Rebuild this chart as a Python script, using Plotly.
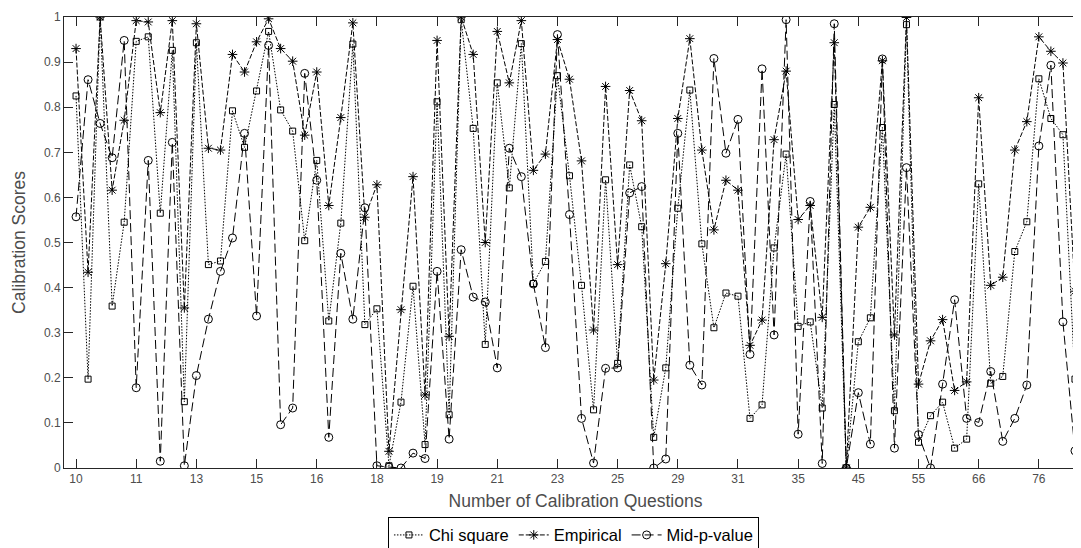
import plotly.graph_objects as go

chi_square = [0.825, 0.197, 1.0, 0.359, 0.545, 0.946, 0.956, 0.565, 0.926, 0.147,
              0.943, 0.451, 0.459, 0.792, 0.711, 0.836, 0.968, 0.794, 0.747, 0.504,
              0.682, 0.326, 0.543, 0.94, 0.318, 0.353, 0.005, 0.146, 0.403, 0.052,
              0.812, 0.118, 0.994, 0.753, 0.274, 0.854, 0.621, 0.941, 0.409, 0.458,
              0.87, 0.648, 0.405, 0.129, 0.639, 0.232, 0.672, 0.535, 0.068, 0.222,
              0.576, 0.838, 0.497, 0.311, 0.388, 0.381, 0.11, 0.14, 0.488, 0.696,
              0.314, 0.324, 0.133, 0.806, 0.0, 0.28, 0.333, 0.755, 0.127, 0.983,
              0.057, 0.116, 0.146, 0.044, 0.064, 0.63, 0.188, 0.203, 0.48, 0.546,
              0.863, 0.775, 0.739, 0.197]
empirical = [0.93, 0.434, 1.0, 0.616, 0.771, 0.992, 0.989, 0.788, 0.992, 0.355,
             0.985, 0.709, 0.705, 0.917, 0.878, 0.945, 0.996, 0.93, 0.902, 0.738,
             0.878, 0.582, 0.777, 0.987, 0.556, 0.628, 0.037, 0.351, 0.646, 0.162,
             0.948, 0.292, 1.0, 0.917, 0.5, 0.968, 0.854, 0.992, 0.66, 0.696,
             0.95, 0.862, 0.681, 0.306, 0.846, 0.451, 0.837, 0.77, 0.195, 0.453,
             0.775, 0.952, 0.705, 0.528, 0.638, 0.616, 0.272, 0.328, 0.728, 0.88,
             0.551, 0.582, 0.334, 0.943, 0.0, 0.534, 0.578, 0.903, 0.295, 0.999,
             0.186, 0.282, 0.329, 0.172, 0.191, 0.821, 0.405, 0.423, 0.705, 0.768,
             0.956, 0.924, 0.898, 0.392]
mid_p_value = [0.557, 0.861, 0.764, 0.688, 0.948, 0.178, 0.682, 0.015, 0.722, 0.005,
               0.205, 0.33, 0.436, 0.51, 0.742, 0.337, 0.937, 0.096, 0.133, 0.875,
               0.638, 0.068, 0.476, 0.33, 0.577, 0.005, 0.002, 0.0, 0.033, 0.021,
               0.436, 0.064, 0.484, 0.379, 0.368, 0.222, 0.709, 0.646, 0.408, 0.267,
               0.961, 0.562, 0.11, 0.011, 0.221, 0.222, 0.61, 0.624, 0.0, 0.02,
               0.742, 0.228, 0.184, 0.908, 0.698, 0.773, 0.252, 0.885, 0.295, 0.994,
               0.075, 0.591, 0.01, 0.985, 0.0, 0.167, 0.053, 0.907, 0.044, 0.666,
               0.074, 0.0, 0.186, 0.373, 0.11, 0.101, 0.214, 0.059, 0.11, 0.184,
               0.714, 0.893, 0.324, 0.038]

tick_positions = [1, 6, 11, 16, 21, 26, 31, 36, 41, 46, 51, 56, 61, 66, 71, 76, 81]
tick_labels = ["10", "11", "13", "15", "16", "18", "19", "21", "23", "25",
               "29", "31", "35", "45", "55", "66", "76"]

x = list(range(1, len(chi_square) + 1))

FONT = "Liberation Sans, Arial, Helvetica, sans-serif"
AX = "#262626"
TXT = "#4d4d4d"

fig = go.Figure()
fig.add_trace(go.Scatter(
    x=x, y=chi_square, name="Chi square", mode="lines+markers",
    line=dict(color="black", width=1, dash="1.5px,1.5px"),
    marker=dict(symbol="square-open", size=6, color="black", line=dict(width=1, color="black"))))
fig.add_trace(go.Scatter(
    x=x, y=empirical, name="Empirical", mode="lines+markers",
    line=dict(color="black", width=1, dash="5px,2px"),
    marker=dict(symbol="asterisk-open", size=8, color="black", line=dict(width=1, color="black"))))
fig.add_trace(go.Scatter(
    x=x, y=mid_p_value, name="Mid-p-value", mode="lines+markers",
    line=dict(color="black", width=1, dash="9px,4px"),
    marker=dict(symbol="circle-open", size=8, color="black", line=dict(width=1, color="black"))))

fig.update_layout(
    width=1081, height=548,
    margin=dict(l=56, r=2, t=9, b=86),
    paper_bgcolor="white", plot_bgcolor="white",
    font=dict(family=FONT, size=12, color=TXT),
    showlegend=True,
    legend=dict(orientation="h", x=0.498, xanchor="center", y=-0.108, yanchor="top",
                bordercolor="black", borderwidth=1, bgcolor="white",
                font=dict(family=FONT, size=16.5, color="black"),
                itemwidth=30, tracegroupgap=0),
)
fig.update_xaxes(
    range=[0, 85], tickmode="array", tickvals=tick_positions, ticktext=tick_labels,
    showgrid=False, zeroline=False, showline=True, linecolor=AX, linewidth=1,
    mirror="ticks", ticks="inside", ticklen=9, tickcolor=AX,
    tickfont=dict(family=FONT, size=12, color=TXT),
    title=dict(text="Number of Calibration Questions", font=dict(family=FONT, size=17.5, color=TXT), standoff=9),
)
fig.update_yaxes(
    range=[0, 1], tickmode="array", tickvals=[i / 10 for i in range(11)],
    ticktext=["0", "0.1", "0.2", "0.3", "0.4", "0.5", "0.6", "0.7", "0.8", "0.9", "1"],
    showgrid=False, zeroline=False, showline=True, linecolor=AX, linewidth=1,
    mirror="ticks", ticks="inside", ticklen=9, tickcolor=AX,
    tickfont=dict(family=FONT, size=12, color=TXT),
    title=dict(text="Calibration Scores", font=dict(family=FONT, size=17.5, color=TXT), standoff=13),
)

fig.write_html("out.html")
